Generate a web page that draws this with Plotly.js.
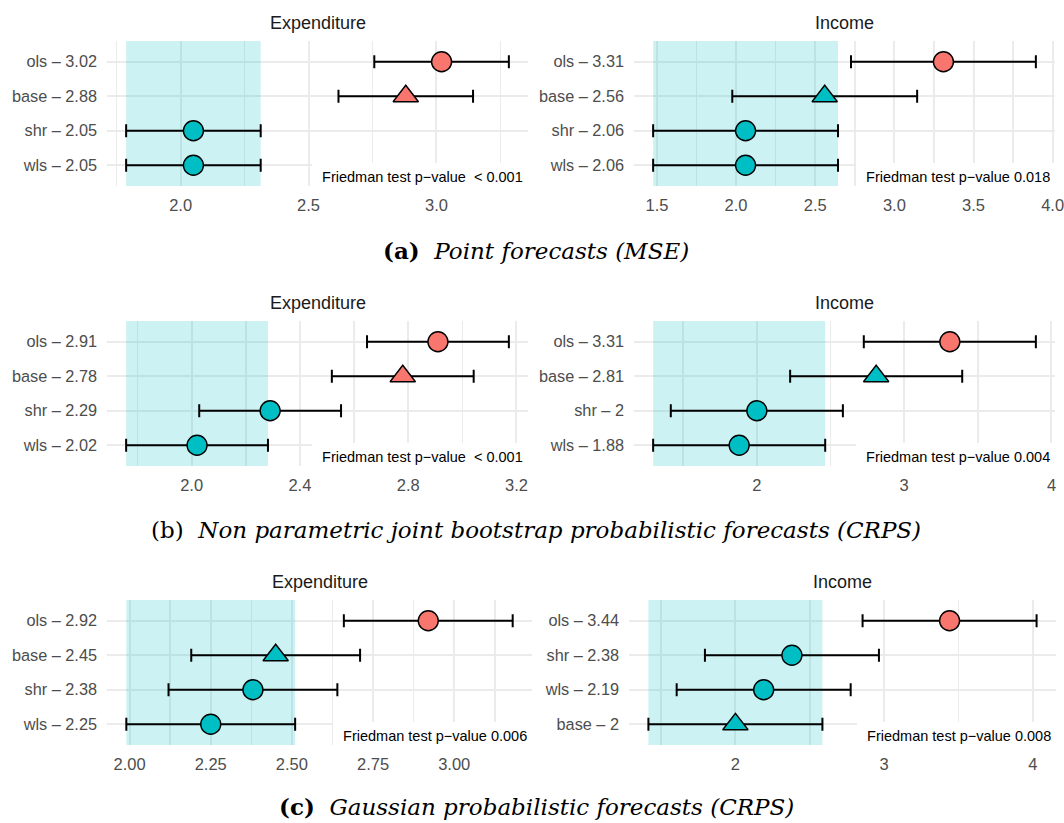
<!DOCTYPE html>
<html>
<head>
<meta charset="utf-8">
<script src="https://cdn.plot.ly/plotly-3.0.1.min.js"></script>
<style>
  html, body { margin: 0; padding: 0; background: #ffffff; }
  #chart { width: 1064px; height: 823px; }
</style>
</head>
<body>
<div id="chart"></div>
<script>
// Mean ranks (MCB / Nemenyi test) per series, listed top to bottom.
const seriesTitles = ['Expenditure', 'Income'];

// (a) Point forecasts (MSE)
const aExpMethods = ['ols', 'base', 'shr', 'wls'];
const aExpRanks   = [3.02, 2.88, 2.05, 2.05];
const aExpCd      = 0.263;
const aExpP       = '< 0.001';
const aIncMethods = ['ols', 'base', 'shr', 'wls'];
const aIncRanks   = [3.31, 2.56, 2.06, 2.06];
const aIncCd      = 0.584;
const aIncP       = '0.018';

// (b) Non parametric joint bootstrap probabilistic forecasts (CRPS)
const bExpMethods = ['ols', 'base', 'shr', 'wls'];
const bExpRanks   = [2.91, 2.78, 2.29, 2.02];
const bExpCd      = 0.262;
const bExpP       = '< 0.001';
const bIncMethods = ['ols', 'base', 'shr', 'wls'];
const bIncRanks   = [3.31, 2.81, 2, 1.88];
const bIncCd      = 0.584;
const bIncP       = '0.004';

// (c) Gaussian probabilistic forecasts (CRPS)
const cExpMethods = ['ols', 'base', 'shr', 'wls'];
const cExpRanks   = [2.92, 2.45, 2.38, 2.25];
const cExpCd      = 0.26;
const cExpP       = '0.006';
const cIncMethods = ['ols', 'shr', 'wls', 'base'];
const cIncRanks   = [3.44, 2.38, 2.19, 2];
const cIncCd      = 0.585;
const cIncP       = '0.008';

const captions = [
  '<b>(a)</b>  <i>Point forecasts (MSE)</i>',
  '(b)  <i>Non parametric joint bootstrap probabilistic forecasts (CRPS)</i>',
  '<b>(c)</b>  <i>Gaussian probabilistic forecasts (CRPS)</i>'
];

// ---- styling / placement ----
const W = 1064, H = 823;
const COL_TEAL = '#00BFC4';
const COL_SALMON = '#F8766D';
const GRID = '#EBEBEB';
const SANS = '"Liberation Sans", Arial, Helvetica, sans-serif';
const SERIF = '"DejaVu Serif", "Liberation Serif", serif';

const colLeft   = [107, 528];
const colRight  = [634, 1055];
const colLeftC  = [107, 532];
const colRightC = [629, 1056];
const rowA = [41, 186], rowB = [321, 466], rowC = [600, 745];

const panels = [
  { m: aExpMethods, r: aExpRanks, cd: aExpCd, p: aExpP, t: seriesTitles[0], px: colLeft,   py: rowA, dt: 0.5,  mdt: 0.25,  fmt: '.1f' },
  { m: aIncMethods, r: aIncRanks, cd: aIncCd, p: aIncP, t: seriesTitles[1], px: colRight,  py: rowA, dt: 0.5,  mdt: 0.25,  fmt: '.1f' },
  { m: bExpMethods, r: bExpRanks, cd: bExpCd, p: bExpP, t: seriesTitles[0], px: colLeft,   py: rowB, dt: 0.4,  mdt: 0.2,   fmt: '.1f' },
  { m: bIncMethods, r: bIncRanks, cd: bIncCd, p: bIncP, t: seriesTitles[1], px: colRight,  py: rowB, dt: 1,    mdt: 0.5,   fmt: 'd' },
  { m: cExpMethods, r: cExpRanks, cd: cExpCd, p: cExpP, t: seriesTitles[0], px: colLeftC,  py: rowC, dt: 0.25, mdt: 0.125, fmt: '.2f' },
  { m: cIncMethods, r: cIncRanks, cd: cIncCd, p: cIncP, t: seriesTitles[1], px: colRightC, py: rowC, dt: 1,    mdt: 0.5,   fmt: 'd' }
];
const captionY = [250, 530, 806];
const captionX = 536;

const traces = [];
const layout = {
  width: W, height: H,
  margin: { l: 0, r: 0, t: 0, b: 0 },
  paper_bgcolor: '#ffffff',
  plot_bgcolor: '#ffffff',
  showlegend: false,
  font: { family: SANS, color: '#4D4D4D' },
  annotations: []
};

panels.forEach((pn, i) => {
  const xa = i === 0 ? 'x' : 'x' + (i + 1);
  const ya = i === 0 ? 'y' : 'y' + (i + 1);
  const n = pn.m.length;
  const pos = pn.m.map((_, k) => k + 1);
  const best = Math.min(...pn.r);
  const lo = Math.min(...pn.r) - pn.cd;
  const hi = Math.max(...pn.r) + pn.cd;
  const pad = 0.05 * (hi - lo);
  const yRange = [n + 0.6, 0.4];

  // band of methods not significantly worse than the best one
  traces.push({
    type: 'scatter', mode: 'lines', xaxis: xa, yaxis: ya,
    x: [best - pn.cd, best + pn.cd, best + pn.cd, best - pn.cd, best - pn.cd],
    y: [yRange[1], yRange[1], yRange[0], yRange[0], yRange[1]],
    fill: 'toself', fillcolor: 'rgba(0,191,196,0.2)',
    line: { width: 0 }, hoverinfo: 'skip'
  });

  // mean rank with its critical-difference interval
  traces.push({
    type: 'scatter', mode: 'markers', xaxis: xa, yaxis: ya,
    x: pn.r, y: pos,
    error_x: { type: 'data', symmetric: true, array: pn.r.map(() => pn.cd),
               color: '#000000', thickness: 2, width: 6.5 },
    marker: {
      size: pn.m.map(m => m === 'base' ? 22 : 20),
      symbol: pn.m.map(m => m === 'base' ? 'triangle-up' : 'circle'),
      color: pn.r.map(v => (v - pn.cd > best + pn.cd) ? COL_SALMON : COL_TEAL),
      opacity: 1,
      line: { color: '#000000', width: 1.4 }
    },
    hoverinfo: 'x+y'
  });

  const xKey = i === 0 ? 'xaxis' : 'xaxis' + (i + 1);
  const yKey = i === 0 ? 'yaxis' : 'yaxis' + (i + 1);
  layout[xKey] = {
    domain: [pn.px[0] / W, pn.px[1] / W],
    anchor: ya,
    range: [lo - pad, hi + pad],
    tickmode: 'linear', tick0: 0, dtick: pn.dt, tickformat: pn.fmt,
    showgrid: true, gridcolor: GRID, gridwidth: 2,
    minor: { tickmode: 'linear', tick0: 0, dtick: pn.mdt, showgrid: true, gridcolor: GRID, gridwidth: 1.6 },
    zeroline: false, showline: false, ticks: '',
    ticklabelstandoff: 7,
    ticklabeloverflow: 'allow',
    tickfont: { family: SANS, size: 16.5, color: '#4D4D4D' },
    fixedrange: true
  };
  layout[yKey] = {
    domain: [1 - pn.py[1] / H, 1 - pn.py[0] / H],
    anchor: xa,
    range: yRange,
    tickmode: 'array', tickvals: pos,
    ticktext: pn.m.map((m, k) => m + ' \u2013 ' + String(pn.r[k])),
    showgrid: true, gridcolor: GRID, gridwidth: 2,
    zeroline: false, showline: false, ticks: '',
    ticklabelstandoff: 9,
    ticklabeloverflow: 'allow',
    tickfont: { family: SANS, size: 16.3, color: '#4D4D4D' },
    fixedrange: true
  };

  // series title
  layout.annotations.push({
    xref: xa + ' domain', yref: ya + ' domain', x: 0.5, y: 1,
    xanchor: 'center', yanchor: 'middle', yshift: 18,
    text: pn.t, showarrow: false,
    font: { family: SANS, size: 18, color: '#1A1A1A' }
  });

  // Friedman test label
  const pTxt = (pn.p.charAt(0) === '<' ? ' ' : '') + pn.p;
  layout.annotations.push({
    xref: xa + ' domain', yref: ya + ' domain', x: 1, y: 0,
    xanchor: 'right', yanchor: 'middle', yshift: 9, xshift: 1,
    text: ' Friedman test p\u2212value ' + pTxt, showarrow: false,
    bgcolor: '#ffffff', borderpad: 6, borderwidth: 0,
    font: { family: SANS, size: 14.5, color: '#000000' }
  });
});

captions.forEach((c, k) => {
  layout.annotations.push({
    xref: 'paper', yref: 'paper', x: captionX / W, y: 1 - captionY[k] / H,
    xanchor: 'center', yanchor: 'middle',
    text: c, showarrow: false,
    font: { family: SERIF, size: 23, color: '#000000' }
  });
});

Plotly.newPlot('chart', traces, layout, { displayModeBar: false, staticPlot: true });
</script>
</body>
</html>
